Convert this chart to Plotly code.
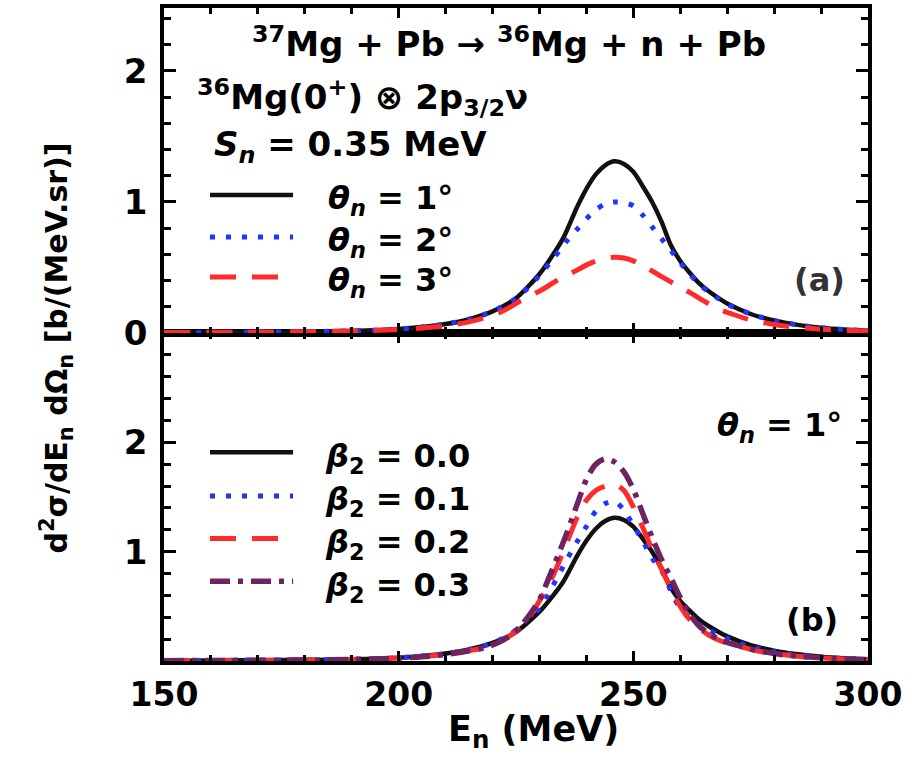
import plotly.graph_objects as go

# ---------------- data ----------------
# Panel (a): theta_n = 1, 2, 3 deg
E_t1 = [150,160,170,180,190,200,205,210,215,220,225,228,230,232,235,238,240,242,244,246,248,250,252,254,256,258,260,262,264,266,268,270,275,280,285,290,295,300]
Y_t1 = [0.003,0.005,0.007,0.010,0.016,0.030,0.045,0.068,0.105,0.165,0.265,0.37,0.45,0.55,0.72,0.96,1.10,1.21,1.28,1.31,1.29,1.23,1.12,1.00,0.85,0.67,0.55,0.46,0.38,0.32,0.27,0.225,0.145,0.095,0.062,0.040,0.026,0.017]

E_t2 = [150,160,170,180,190,200,205,210,215,220,225,228,230,233,236,238,240,242,244,246,248,250,252,254,256,258,260,262,264,266,268,270,275,280,285,290,295,300]
Y_t2 = [0.003,0.005,0.007,0.010,0.016,0.030,0.045,0.068,0.105,0.165,0.265,0.36,0.44,0.57,0.71,0.79,0.87,0.94,0.985,1.0,0.995,0.97,0.90,0.81,0.72,0.63,0.537,0.45,0.375,0.315,0.265,0.22,0.145,0.095,0.062,0.040,0.026,0.017]

E_t3 = [150,160,170,180,190,200,205,210,215,219,222,226,230,234,238,241,244,246,248,250,253,256,259,262,265,268,271,275,280,285,290,295,300]
Y_t3 = [0.003,0.005,0.007,0.010,0.015,0.027,0.038,0.055,0.085,0.125,0.165,0.245,0.32,0.405,0.48,0.535,0.568,0.578,0.572,0.55,0.494,0.43,0.37,0.31,0.245,0.185,0.145,0.10,0.065,0.043,0.029,0.020,0.015]

# Panel (b): theta_n = 1 deg, beta_2 = 0.0, 0.1, 0.2, 0.3
E_b0 = E_t1
Y_b0 = Y_t1

E_b1 = [150,160,170,180,190,200,205,210,215,220,224,227,230,232,234,236,238,240,242,244,246,248,250,252,254,256,258,260,262,264,266,268,270,275,280,285,290,295,300]
Y_b1 = [0.003,0.005,0.007,0.010,0.016,0.030,0.045,0.068,0.105,0.165,0.25,0.37,0.48,0.62,0.78,0.94,1.09,1.23,1.37,1.44,1.46,1.38,1.24,1.10,0.94,0.83,0.64,0.48,0.40,0.335,0.285,0.24,0.205,0.13,0.085,0.055,0.036,0.024,0.016]

E_b2 = [150,160,170,180,190,200,205,210,215,219,223,226,228,230,232,234,236,238,240,242,244,246,248,250,252,254,256,258,260,262,264,266,268,270,273,276,280,285,290,295,300]
Y_b2 = [0.003,0.005,0.007,0.009,0.014,0.027,0.040,0.062,0.095,0.13,0.21,0.31,0.41,0.55,0.70,0.89,1.10,1.31,1.47,1.56,1.60,1.615,1.56,1.41,1.22,1.02,0.84,0.66,0.50,0.38,0.30,0.24,0.195,0.165,0.13,0.095,0.068,0.044,0.029,0.019,0.013]

E_b3 = [150,160,170,180,190,200,205,210,215,219,223,226,228,230,232,234,236,238,240,242,244,246,248,250,252,254,256,258,260,262,264,266,268,270,272,276,280,285,290,295,300]
Y_b3 = [0.003,0.005,0.007,0.009,0.014,0.026,0.038,0.060,0.093,0.13,0.21,0.32,0.43,0.56,0.76,0.97,1.19,1.43,1.66,1.80,1.85,1.82,1.73,1.57,1.35,1.13,0.93,0.76,0.58,0.43,0.32,0.255,0.205,0.17,0.145,0.10,0.068,0.044,0.029,0.019,0.013]

x_ticks = [150, 200, 250, 300]
y_ticks_top = [0, 1, 2]
y_ticks_bottom = [1, 2]

labels_top = ["<i>θ</i><sub><i>n</i></sub> = 1°", "<i>θ</i><sub><i>n</i></sub> = 2°", "<i>θ</i><sub><i>n</i></sub> = 3°"]
labels_bottom = ["<i>β</i><sub>2</sub> = 0.0", "<i>β</i><sub>2</sub> = 0.1", "<i>β</i><sub>2</sub> = 0.2", "<i>β</i><sub>2</sub> = 0.3"]

# ---------------- styles ----------------
FONT = "DejaVu Sans, Liberation Sans, Arial"
BLACK = "#111111"
BLUE = "#2233ff"
RED = "#ff2a2a"
PURPLE = "#6e2463"
styles_top = [
    dict(color=BLACK, width=4.5, dash="solid"),
    dict(color=BLUE, width=5, dash="5px,11px"),
    dict(color=RED, width=5, dash="26px,16px"),
]
styles_bottom = [
    dict(color=BLACK, width=4.5, dash="solid"),
    dict(color=BLUE, width=5, dash="5px,11px"),
    dict(color=RED, width=5, dash="26px,16px"),
    dict(color=PURPLE, width=5.5, dash="20px,8px,5px,8px"),
]

fig = go.Figure()

top_series = [(E_t1, Y_t1), (E_t2, Y_t2), (E_t3, Y_t3)]
bottom_series = [(E_b0, Y_b0), (E_b1, Y_b1), (E_b2, Y_b2), (E_b3, Y_b3)]

for (e, y), st, lab in zip(top_series, styles_top, labels_top):
    fig.add_trace(go.Scatter(x=e, y=y, mode="lines", line=dict(st, shape="spline", smoothing=0.8),
                             xaxis="x2", yaxis="y2", name=lab, showlegend=False))
for (e, y), st, lab in zip(bottom_series, styles_bottom, labels_bottom):
    fig.add_trace(go.Scatter(x=e, y=y, mode="lines", line=dict(st, shape="spline", smoothing=0.8),
                             xaxis="x", yaxis="y", name=lab, showlegend=False))

tickfont = dict(family=FONT, size=34, color="black", weight="bold")
xtickfont = dict(family=FONT, size=33, color="black", weight="bold")
common_x = dict(range=[150, 300], tickmode="array", tickvals=x_ticks, ticks="inside", ticklen=10, tickwidth=3,
                showline=True, linewidth=3.5, linecolor="black", mirror="allticks",
                minor=dict(dtick=10, tick0=150, ticks="inside", ticklen=6, tickwidth=3, tickcolor="black"),
                tickcolor="black", showgrid=False, zeroline=False, tickfont=xtickfont)
common_y = dict(ticks="inside", tickmode="array", ticklen=12, tickwidth=3, showline=True, linewidth=3.5,
                linecolor="black", mirror="allticks",
                minor=dict(dtick=0.2, tick0=0, ticks="inside", ticklen=7, tickwidth=3, tickcolor="black"),
                tickcolor="black", showgrid=False, zeroline=False, tickfont=tickfont, ticklabelstandoff=6)

split = 0.5023
fig.update_layout(
    width=917, height=758,
    margin=dict(l=164, r=49, t=8, b=97, autoexpand=False),
    paper_bgcolor="white", plot_bgcolor="white",
    showlegend=False,
    xaxis=dict(common_x, domain=[0, 1], anchor="y", ticklabelstandoff=2),
    xaxis2=dict(common_x, domain=[0, 1], anchor="y2", matches="x", showticklabels=False),
    yaxis=dict(common_y, domain=[0, split], anchor="x", range=[0, 3.0], tickvals=y_ticks_bottom),
    yaxis2=dict(common_y, domain=[split, 1], anchor="x2", range=[0, 2.48], tickvals=y_ticks_top),
)

def txt(text, x, y, xref, yref, size, xanchor="left", yanchor="middle", color="black", angle=0):
    fig.add_annotation(text=text, x=x, y=y, xref=xref, yref=yref, showarrow=False,
                       xanchor=xanchor, yanchor=yanchor, textangle=angle,
                       font=dict(family=FONT, size=size, color=color, weight="bold"))

# panel (a) texts
txt("<sup>37</sup>Mg + Pb → <sup>36</sup>Mg + n + Pb", 223.5, 2.22, "x2", "y2", 34, xanchor="center")
txt("<sup>36</sup>Mg(0<sup>+</sup>) ⊗ 2p<sub>3/2</sub>ν", 156.6, 1.80, "x2", "y2", 34)
txt("<i>S</i><sub><i>n</i></sub> = 0.35 MeV", 160.2, 1.42, "x2", "y2", 34)
txt("(a)", 295.5, 0.405, "x2", "y2", 32, xanchor="right", color="#333333")

# legend keys + labels panel (a)
key_y_top = [1.053, 0.733, 0.427]
for st, lab, ky in zip(styles_top, labels_top, key_y_top):
    fig.add_shape(type="line", xref="x2", yref="y2", x0=159.8, x1=177.5, y0=ky, y1=ky,
                  line=dict(color=st["color"], width=st["width"], dash=st["dash"]))
    txt(lab, 184.5, ky - 0.04, "x2", "y2", 32)

# panel (b) texts
txt("<i>θ</i><sub><i>n</i></sub> = 1°", 267.5, 2.14, "x", "y", 32)
txt("(b)", 294.0, 0.376, "x", "y", 32, xanchor="right")
key_y_bot = [1.91, 1.51, 1.12, 0.73]
for st, lab, ky in zip(styles_bottom, labels_bottom, key_y_bot):
    fig.add_shape(type="line", xref="x", yref="y", x0=159.8, x1=177.5, y0=ky, y1=ky,
                  line=dict(color=st["color"], width=st["width"], dash=st["dash"]))
    txt(lab, 183.8, ky - 0.05, "x", "y", 32)

# axis titles
txt("E<sub>n</sub> (MeV)", 0.525, -0.1455, "paper", "paper", 35, xanchor="center", yanchor="bottom")
txt("d<sup>2</sup>σ/dE<sub>n</sub> dΩ<sub>n</sub> [b/(MeV.sr)]", -0.152, 0.48, "paper", "paper", 30,
    xanchor="center", yanchor="middle", angle=-90)

fig.write_html("out.html")
